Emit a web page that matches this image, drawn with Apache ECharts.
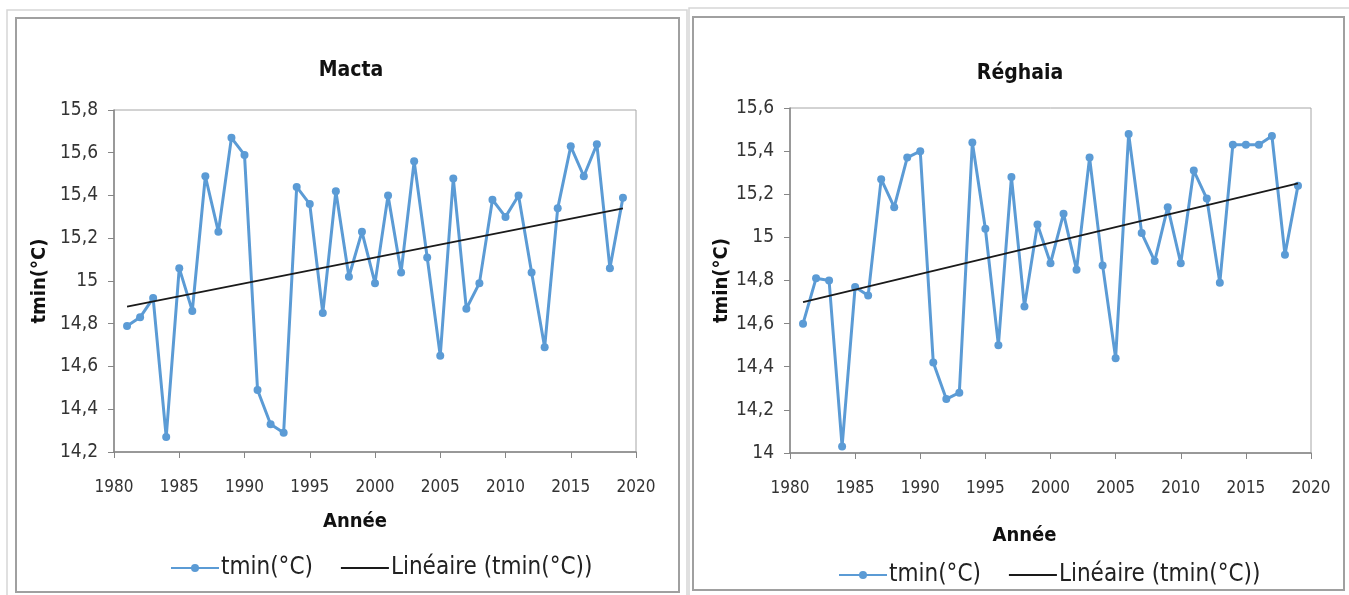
<!DOCTYPE html>
<html>

<head>
    <meta charset="utf-8">
    <title>tmin Macta / Réghaia</title>
    <script src="https://cdn.jsdelivr.net/npm/echarts@6/dist/echarts.min.js"></script>
    <style>
        body { margin: 0; background: #fff; }
        #main { width: 1349px; height: 595px; }
    </style>
</head>

<body>
    <div id="main"></div>
    <script type="text/javascript">
        // années 1981-2019
        var years = [];
        for (var y = 1981; y <= 2019; y++) years.push(y);

        // tmin (°C)
        var tminMacta = [14.79, 14.83, 14.92, 14.27, 15.06, 14.86, 15.49, 15.23, 15.67, 15.59,
            14.49, 14.33, 14.29, 15.44, 15.36, 14.85, 15.42, 15.02, 15.23, 14.99,
            15.40, 15.04, 15.56, 15.11, 14.65, 15.48, 14.87, 14.99, 15.38, 15.30,
            15.40, 15.04, 14.69, 15.34, 15.63, 15.49, 15.64, 15.06, 15.39];
        var tminReghaia = [14.60, 14.81, 14.80, 14.03, 14.77, 14.73, 15.27, 15.14, 15.37, 15.40,
            14.42, 14.25, 14.28, 15.44, 15.04, 14.50, 15.28, 14.68, 15.06, 14.88,
            15.11, 14.85, 15.37, 14.87, 14.44, 15.48, 15.02, 14.89, 15.14, 14.88,
            15.31, 15.18, 14.79, 15.43, 15.43, 15.43, 15.47, 14.92, 15.24];

        // courbe de tendance linéaire : extrémités lues (1981, 2019)
        var trendYears = [1981, 2019];
        var trendMacta = [14.88, 15.34];
        var trendReghaia = [14.70, 15.25];

        var font = "'Liberation Sans Narrow', 'DejaVu Sans Condensed', sans-serif";
        var blue = '#5b9bd5';
        var axisGray = '#868686';

        function pairs(xs, vs) {
            var out = [];
            for (var i = 0; i < xs.length; i++) out.push([xs[i], vs[i]]);
            return out;
        }

        function comma(v) {
            return String(+v.toFixed(1)).replace('.', ',');
        }

        function xAxisCfg(idx, namePad, nameGap) {
            return {
                gridIndex: idx,
                type: 'value',
                min: 1980, max: 2020, interval: 5,
                name: 'Année',
                nameLocation: 'middle',
                nameGap: nameGap,
                nameTextStyle: { fontFamily: font, fontWeight: 'bold', fontSize: 20, color: '#111', padding: [0, namePad, 0, 0] },
                axisLine: { lineStyle: { color: axisGray, width: 1.5 } },
                axisTick: { length: 6, lineStyle: { color: axisGray } },
                axisLabel: { margin: 27, fontFamily: font, fontSize: 17, color: '#333', formatter: function (v) { return String(v); } },
                splitLine: { show: false }
            };
        }

        function yAxisCfg(idx, min, nameGap) {
            return {
                gridIndex: idx,
                type: 'value',
                min: min, max: min + 1.6, interval: 0.2,
                name: 'tmin(°C)',
                nameLocation: 'middle',
                nameGap: nameGap,
                nameRotate: 90,
                nameTextStyle: { fontFamily: font, fontWeight: 'bold', fontSize: 20, color: '#111' },
                axisLine: { show: true, lineStyle: { color: axisGray, width: 1.5 } },
                axisTick: { show: true, length: 6, lineStyle: { color: axisGray } },
                axisLabel: { margin: 16, fontFamily: font, fontSize: 19, color: '#333', formatter: comma },
                splitLine: { show: false }
            };
        }

        function lineSeries(idx, data) {
            return {
                name: 'tmin(°C)',
                type: 'line',
                xAxisIndex: idx, yAxisIndex: idx,
                data: data,
                symbol: 'circle', symbolSize: 8,
                lineStyle: { color: blue, width: 3 },
                itemStyle: { color: blue },
                z: 2
            };
        }

        function trendSeries(idx, data) {
            return {
                name: 'Linéaire (tmin(°C))',
                type: 'line',
                xAxisIndex: idx, yAxisIndex: idx,
                data: data,
                symbol: 'none',
                lineStyle: { color: '#1a1a1a', width: 1.8 },
                itemStyle: { color: '#1a1a1a' },
                z: 3
            };
        }

        function legendCfg(left, top) {
            return {
                left: left, top: top,
                itemWidth: 48, itemHeight: 10, itemGap: 27,
                textStyle: { fontFamily: font, fontSize: 24, color: '#222', padding: [0, 0, 0, -3] },
                data: ['tmin(°C)', { name: 'Linéaire (tmin(°C))', itemStyle: { opacity: 0 } }]
            };
        }

        var myChart = echarts.init(document.getElementById('main'));
        myChart.setOption({
            animation: false,
            title: [
                { text: 'Macta', left: 346, top: 55, textAlign: 'center', textStyle: { fontFamily: font, fontWeight: 'bold', fontSize: 21, color: '#111' } },
                { text: 'Réghaia', left: 1015, top: 58, textAlign: 'center', textStyle: { fontFamily: font, fontWeight: 'bold', fontSize: 21, color: '#111' } }
            ],
            legend: [legendCfg(165, 551), legendCfg(833, 558)],
            grid: [
                { left: 114, top: 110, width: 522, height: 342, show: true, borderColor: '#a6a6a6', borderWidth: 1 },
                { left: 790, top: 108, width: 521, height: 345, show: true, borderColor: '#a6a6a6', borderWidth: 1 }
            ],
            xAxis: [xAxisCfg(0, 40, 60), xAxisCfg(1, 52, 73)],
            yAxis: [yAxisCfg(0, 14.2, 64), yAxisCfg(1, 14, 53)],
            series: [
                lineSeries(0, pairs(years, tminMacta)),
                trendSeries(0, pairs(trendYears, trendMacta)),
                lineSeries(1, pairs(years, tminReghaia)),
                trendSeries(1, pairs(trendYears, trendReghaia))
            ],
            graphic: [
                // cadres des deux panneaux (double bordure)
                { type: 'rect', shape: { x: 7, y: 10, width: 680, height: 590 }, style: { fill: 'none', stroke: '#d6d6d6', lineWidth: 1.5 }, silent: true },
                { type: 'rect', shape: { x: 16, y: 18, width: 663, height: 574 }, style: { fill: 'none', stroke: '#a0a0a0', lineWidth: 2 }, silent: true },
                { type: 'rect', shape: { x: 689, y: 8, width: 670, height: 592 }, style: { fill: 'none', stroke: '#d6d6d6', lineWidth: 1.5 }, silent: true },
                { type: 'rect', shape: { x: 693, y: 17, width: 651, height: 573 }, style: { fill: 'none', stroke: '#a0a0a0', lineWidth: 2 }, silent: true }
            ]
        });
    </script>
</body>

</html>
